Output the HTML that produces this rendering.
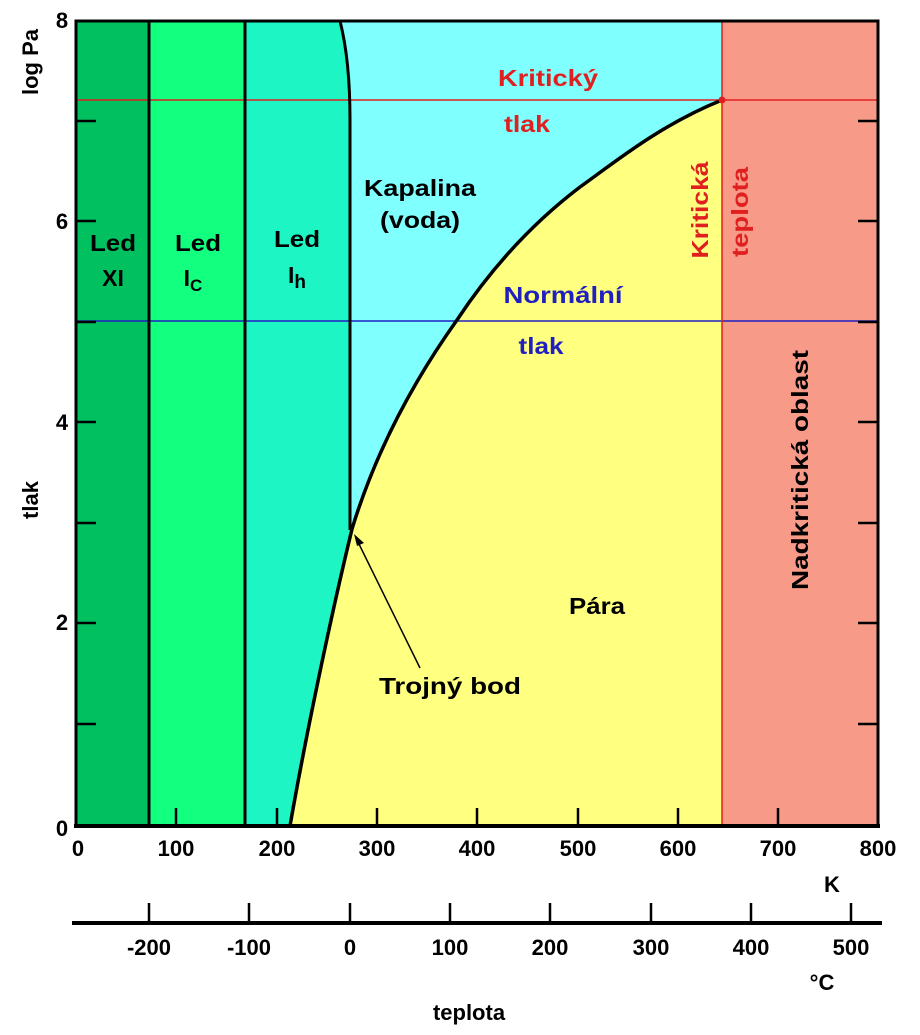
<!DOCTYPE html>
<html><head><meta charset="utf-8"><style>
html,body{margin:0;padding:0;background:#fff;}
svg{display:block;font-family:"Liberation Sans",Arial,sans-serif;font-weight:bold;}
</style></head><body>
<svg width="920" height="1035" viewBox="0 0 920 1035" xmlns="http://www.w3.org/2000/svg">
<rect width="920" height="1035" fill="#fff"/>
<rect x="76" y="21" width="73" height="805" fill="#00c060"/>
<rect x="149" y="21" width="96" height="805" fill="#12ff80"/>
<rect x="245" y="21" width="110" height="805" fill="#1ef5c5"/>
<path d="M340,21 Q350,60 350,120 L350,826 L722,826 L722,21 Z" fill="#80ffff"/>
<path d="M290,826 C305,740 330,620 352,529 C370,470 400,400 457,320 C490,270 530,225 580,187 C615,162 660,125 722,100 L722,826 Z" fill="#ffff80"/>
<rect x="722" y="21" width="156" height="805" fill="#f89a88"/>
<line x1="76" y1="100" x2="878" y2="100" stroke="#e02020" stroke-width="1.5"/>
<line x1="76" y1="321" x2="878" y2="321" stroke="#2020c0" stroke-width="1.5"/>
<line x1="722" y1="21" x2="722" y2="826" stroke="#e02020" stroke-width="1.5"/>
<line x1="149" y1="21" x2="149" y2="826" stroke="#000" stroke-width="3"/>
<line x1="245" y1="21" x2="245" y2="826" stroke="#000" stroke-width="3"/>
<path d="M340,21 Q350,60 350,120 L350,530" fill="none" stroke="#000" stroke-width="3"/>
<path d="M290,826 C305,740 330,620 352,529 C370,470 400,400 457,320 C490,270 530,225 580,187 C615,162 660,125 722,100" fill="none" stroke="#000" stroke-width="3.5"/>
<circle cx="722" cy="100" r="3.5" fill="#e02020"/>
<rect x="76" y="21" width="802" height="805" fill="none" stroke="#000" stroke-width="3"/>
<line x1="74" y1="826" x2="880" y2="826" stroke="#000" stroke-width="4"/>
<g stroke="#000" stroke-width="2.5">
<line x1="76" y1="121" x2="96" y2="121"/><line x1="76" y1="221" x2="96" y2="221"/>
<line x1="76" y1="322" x2="96" y2="322"/><line x1="76" y1="422" x2="96" y2="422"/>
<line x1="76" y1="523" x2="96" y2="523"/><line x1="76" y1="623" x2="96" y2="623"/>
<line x1="76" y1="724" x2="96" y2="724"/>
<line x1="858" y1="121" x2="878" y2="121"/><line x1="858" y1="221" x2="878" y2="221"/>
<line x1="858" y1="322" x2="878" y2="322"/><line x1="858" y1="422" x2="878" y2="422"/>
<line x1="858" y1="523" x2="878" y2="523"/><line x1="858" y1="623" x2="878" y2="623"/>
<line x1="858" y1="724" x2="878" y2="724"/>
<line x1="176" y1="826" x2="176" y2="808"/><line x1="277" y1="826" x2="277" y2="808"/>
<line x1="377" y1="826" x2="377" y2="808"/><line x1="477" y1="826" x2="477" y2="808"/>
<line x1="578" y1="826" x2="578" y2="808"/><line x1="678" y1="826" x2="678" y2="808"/>
<line x1="778" y1="826" x2="778" y2="808"/>
<line x1="72" y1="923" x2="882" y2="923" stroke-width="4"/>
<line x1="149" y1="923" x2="149" y2="903"/><line x1="249" y1="923" x2="249" y2="903"/>
<line x1="350" y1="923" x2="350" y2="903"/><line x1="450" y1="923" x2="450" y2="903"/>
<line x1="550" y1="923" x2="550" y2="903"/><line x1="651" y1="923" x2="651" y2="903"/>
<line x1="751" y1="923" x2="751" y2="903"/><line x1="851" y1="923" x2="851" y2="903"/>
</g>
<line x1="420" y1="668" x2="357" y2="540" stroke="#000" stroke-width="1.5"/>
<path d="M354,534 L364,543 L357,546 Z" fill="#000"/>
<g font-size="22" text-anchor="middle">
<text x="62" y="28">8</text><text x="62" y="229">6</text><text x="62" y="430">4</text>
<text x="62" y="630">2</text><text x="62" y="836">0</text>
</g>
<text transform="translate(38,62) rotate(-90)" font-size="22" text-anchor="middle">log Pa</text>
<text transform="translate(38,500) rotate(-90)" font-size="22" text-anchor="middle">tlak</text>
<g font-size="22" text-anchor="middle">
<text x="78" y="856">0</text><text x="176" y="856">100</text><text x="277" y="856">200</text>
<text x="377" y="856">300</text><text x="477" y="856">400</text><text x="578" y="856">500</text>
<text x="678" y="856">600</text><text x="778" y="856">700</text><text x="878" y="856">800</text>
<text x="832" y="892">K</text>
<text x="149" y="955">-200</text><text x="249" y="955">-100</text><text x="350" y="955">0</text>
<text x="450" y="955">100</text><text x="550" y="955">200</text><text x="651" y="955">300</text>
<text x="751" y="955">400</text><text x="851" y="955">500</text>
<text x="822" y="990">°C</text>
<text x="469" y="1020">teplota</text>
</g>
<g font-size="23" text-anchor="middle">
<text x="113" y="251" textLength="46" lengthAdjust="spacingAndGlyphs">Led</text><text x="113" y="286">XI</text>
<text x="198" y="251" textLength="46" lengthAdjust="spacingAndGlyphs">Led</text><text x="193" y="286">I<tspan font-size="17" dy="5">C</tspan></text>
<text x="297" y="247" textLength="46" lengthAdjust="spacingAndGlyphs">Led</text><text x="297" y="283">I<tspan font-size="19" dy="5">h</tspan></text>
<text x="420" y="196" textLength="112" lengthAdjust="spacingAndGlyphs">Kapalina</text>
<text x="420" y="228" textLength="80" lengthAdjust="spacingAndGlyphs">(voda)</text>
<text x="597" y="614" textLength="56" lengthAdjust="spacingAndGlyphs">Pára</text>
<text x="450" y="694" textLength="142" lengthAdjust="spacingAndGlyphs">Trojný bod</text>
<text x="548" y="86" fill="#e02020" textLength="100" lengthAdjust="spacingAndGlyphs">Kritický</text>
<text x="527" y="132" fill="#e02020" textLength="46" lengthAdjust="spacingAndGlyphs">tlak</text>
<text x="563" y="303" fill="#2020c0" textLength="119" lengthAdjust="spacingAndGlyphs">Normální</text>
<text x="541" y="354" fill="#2020c0" textLength="45" lengthAdjust="spacingAndGlyphs">tlak</text>
</g>
<text transform="translate(708,210) rotate(-90)" font-size="23" text-anchor="middle" fill="#e02020" textLength="97" lengthAdjust="spacingAndGlyphs">Kritická</text>
<text transform="translate(748,212) rotate(-90)" font-size="23" text-anchor="middle" fill="#e02020" textLength="90" lengthAdjust="spacingAndGlyphs">teplota</text>
<text transform="translate(808,470) rotate(-90)" font-size="23" text-anchor="middle" textLength="240" lengthAdjust="spacingAndGlyphs">Nadkritická oblast</text>
</svg>
</body></html>
